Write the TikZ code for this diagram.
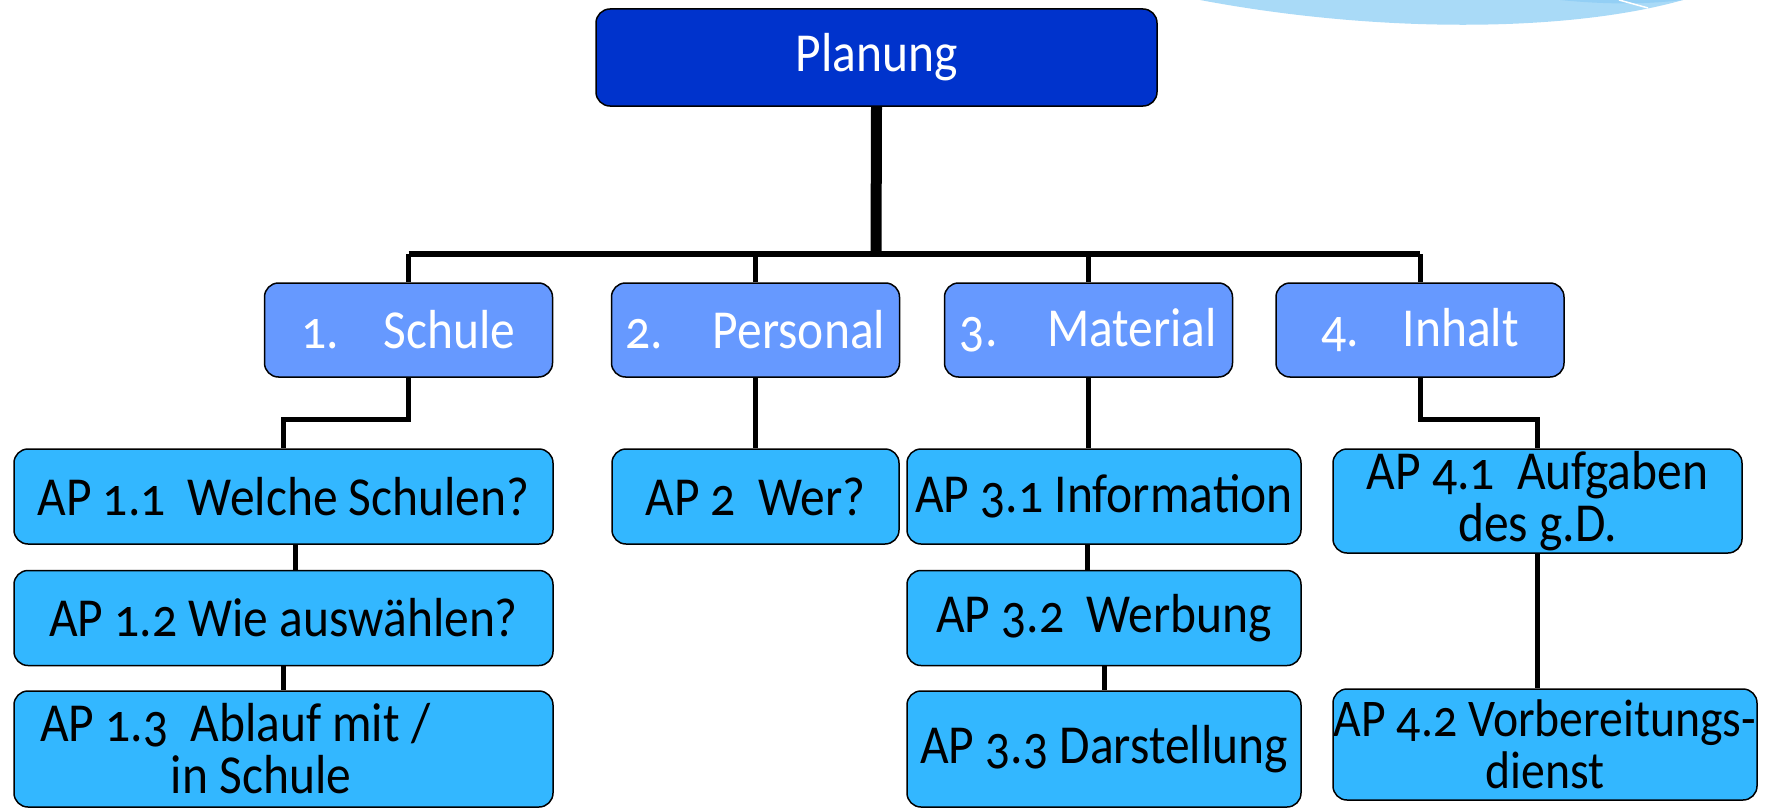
\documentclass[tikz,border=0pt]{standalone}
\usepackage{fontspec}
\setmainfont{Carlito}[Numbers=OldStyle,FakeStretch=0.9]
\usepackage{xcolor}
\usepackage{tikz}

\definecolor{planblue}{HTML}{0033CC}
\definecolor{areablue}{HTML}{6699FF}
\definecolor{apblue}{HTML}{33B7FF}
\definecolor{swoosh}{HTML}{A9DAF7}
\definecolor{swooshdark}{HTML}{93CFF5}

\tikzset{
  box/.style={draw=black, line width=1.5pt, rounded corners=14pt, inner sep=0pt,
    font=\fontsize{55}{52}\selectfont},
  planbox/.style={box, fill=planblue, text=white, minimum width=561pt, minimum height=97pt},
  areabox/.style={box, fill=areablue, text=white, minimum width=288pt, minimum height=94pt},
  apbox/.style={box, fill=apblue, text=black, minimum height=95pt, align=center},
  link/.style={line width=5pt},
}

\begin{document}
\begin{tikzpicture}[x=1pt,y=-1pt]
              \useasboundingbox (0,0) rectangle (1791,808);

              % swoosh in the corner
              \fill[swoosh] (1200,0) .. controls (1380,34) and (1570,32) .. (1683,0) -- cycle;
              \fill[swooshdark] (1560,0) .. controls (1600,4) and (1640,5) .. (1683,0) -- cycle;
              \draw[white, line width=1.5pt] (1619,0) -- (1648,8);

              \node[planbox] (plan) at (876.5,57.5) {Planung};

              \node[areabox] (s1) at (408.5,330) {1.\hspace{0.8em}Schule};
              \node[areabox] (s2) at (755.5,330) {2.\hspace{0.9em}Personal};
              \node[areabox] (s3) at (1088.5,330) {3.\hspace{0.9em}Material};
              \node[areabox] (s4) at (1420,330) {4.\hspace{0.8em}Inhalt};

              \node[apbox, minimum width=539pt] (ap11) at (283.5,496.5) {AP 1.1\ \ Welche Schulen?};
              \node[apbox, minimum width=539pt] (ap12) at (283.5,618) {AP 1.2 Wie auswählen?};
              \node[apbox, minimum height=116pt, align=left, text width=487pt, inner xsep=26pt]
                (ap13) at (283.5,749) {\spaceskip=0pt\xspaceskip=0pt AP 1.3\ \ Ablauf mit /\\\hspace*{131pt}in Schule};

              \node[apbox, minimum width=287pt] (ap2) at (755.5,496.5) {AP 2\ \ Wer?};

              \node[apbox, minimum width=394pt] (ap31) at (1104,496.5) {AP 3.1 Information};
              \node[apbox, minimum width=394pt] (ap32) at (1104,618) {AP 3.2\ \ Werbung};
              \node[apbox, minimum width=394pt, minimum height=116pt] (ap33) at (1104,749) {AP 3.3 Darstellung};

              \node[apbox, minimum width=409pt, minimum height=104pt] (ap41) at (1537.5,501) {AP 4.1\ \ Aufgaben\\des g.D.};
              \node[apbox, text width=424pt, minimum height=111pt] (ap42) at (1545,744.5)
                {\fontsize{53}{53}\selectfont\spaceskip=0pt\xspaceskip=0pt
                 \makebox[\linewidth]{AP 4.2 Vorbereitungs-}\\dienst};

              % tree lines
              \coordinate (bar) at (876,254);
              \draw[line width=11pt] (plan.south) -- (bar);
              \draw[line width=6pt] (s1.north |- bar) -- (s4.north |- bar);
              \foreach \s in {s1,s2,s3,s4}
                \draw[link] (\s.north) -- (\s.north |- bar);

              \draw[link] (s1.south) -- ++(0,42) -| (ap11.north);
              \draw[link] (s2.south) -- (ap2.north);
              \draw[link] (s3.south) -- (s3.south |- ap31.north);
              \draw[link] (s4.south) -- ++(0,42) -| (ap41.north);

              \draw[link] ([xshift=12pt]ap11.south) -- ([xshift=12pt]ap12.north);
              \draw[link] (ap12.south) -- (ap13.north);
              \draw[link] ([xshift=-17pt]ap31.south) -- ([xshift=-17pt]ap32.north);
              \draw[link] (ap32.south) -- (ap33.north);
              \draw[link] (ap41.south) -- (ap41.south |- ap42.north);
            \end{tikzpicture}
\end{document}
